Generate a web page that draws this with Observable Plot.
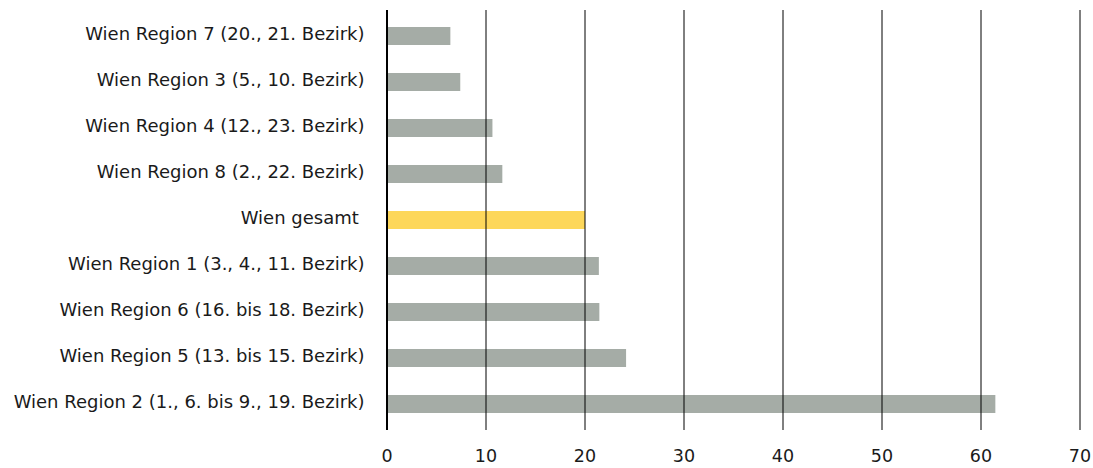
<!DOCTYPE html>
<html>
<head>
<meta charset="utf-8">
<script src="https://cdn.jsdelivr.net/npm/d3@7"></script>
<script src="https://cdn.jsdelivr.net/npm/@observablehq/plot@0.6"></script>
<style>
  html, body { margin: 0; padding: 0; background: #fff; }
  #chart svg { display: block; }
</style>
</head>
<body>
<div id="chart"></div>
<script>
// Regions of Vienna, top to bottom
const regions = [
  "Wien Region 7 (20., 21. Bezirk)",
  "Wien Region 3 (5., 10. Bezirk)",
  "Wien Region 4 (12., 23. Bezirk)",
  "Wien Region 8 (2., 22. Bezirk)",
  "Wien gesamt",
  "Wien Region 1 (3., 4., 11. Bezirk)",
  "Wien Region 6 (16. bis 18. Bezirk)",
  "Wien Region 5 (13. bis 15. Bezirk)",
  "Wien Region 2 (1., 6. bis 9., 19. Bezirk)"
];
const values = [6.45, 7.45, 10.7, 11.7, 20.05, 21.45, 21.5, 24.2, 61.5];
const totalLabel = "Wien gesamt";
const xTicks = [0, 10, 20, 30, 40, 50, 60, 70];

const rows = regions.map((region, i) => ({region, value: values[i]}));

const chart = Plot.plot({
  width: 1093,
  height: 468,
  marginTop: 10,
  marginBottom: 38,
  marginLeft: 386.5,
  marginRight: 13.5,
  style: {fontFamily: "DejaVu Sans", fontSize: "18px", color: "#1a1a1a", background: "#fff"},
  x: {domain: [0, 70]},
  y: {domain: regions, paddingInner: 0.6, paddingOuter: 0.3},
  marks: [
    Plot.barX(rows, {
      x: "value",
      y: "region",
      fill: d => d.region === totalLabel ? "#fdd75a" : "#a5aca6",
      inset: 0
    }),
    Plot.ruleX(xTicks.filter(t => t > 0), {stroke: "#000", strokeWidth: 1}),
    Plot.ruleX([0], {stroke: "#000", strokeWidth: 2}),
    Plot.axisX({ticks: xTicks, tickSize: 0, tickPadding: 19, fontSize: 17.5, tickFormat: d => String(d), label: null}),
    Plot.axisY({
      tickSize: 0,
      tickPadding: 22.5,
      fontSize: 18,
      dy: -2,
      label: null,
      tickFormat: d => d === totalLabel ? d + "\u00a0" : d
    })
  ]
});
document.getElementById("chart").appendChild(chart);
</script>
</body>
</html>
